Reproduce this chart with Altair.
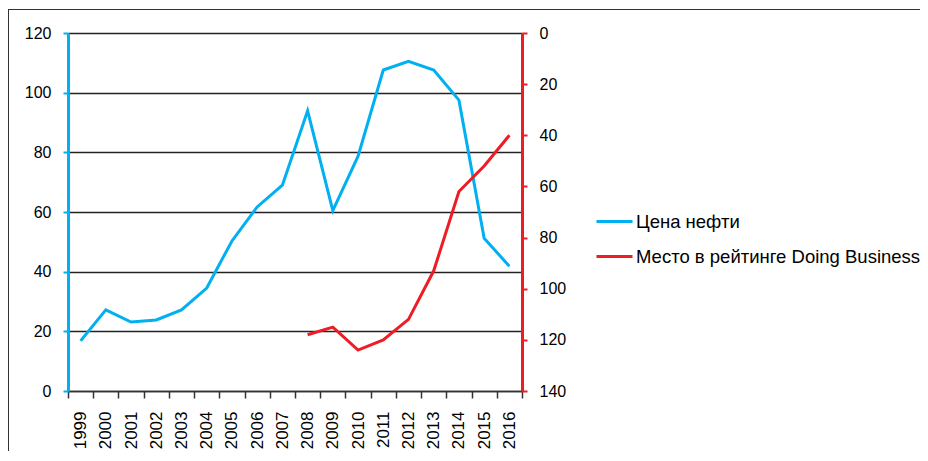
import altair as alt
import pandas as pd

years = [str(y) for y in range(1999, 2017)]
oil_price = [16.8, 27.2, 23.1, 23.8, 27.2, 34.5, 50.3, 61.7, 69.0, 93.9, 60.5, 78.7,
             107.6, 110.5, 107.6, 97.5, 51.2, 41.8]
rank_years = [str(y) for y in range(2008, 2017)]
rank_place = [118, 115, 124, 120, 112, 93, 62, 52, 40]
series_names = ["Цена нефти", "Место в рейтинге Doing Business"]
series_colors = ["#00B0F0", "#EE1C25"]
left_ticks = [0, 20, 40, 60, 80, 100, 120]
right_ticks = [0, 20, 40, 60, 80, 100, 120, 140]

FONT = "Liberation Sans"

df_oil = pd.DataFrame({"year": years, "value": oil_price, "series": series_names[0]})
df_rank = pd.DataFrame({"year": rank_years, "value": rank_place, "series": series_names[1]})

x_enc = alt.X(
    "year:N",
    sort=years,
    bandPosition=0.5,
    scale=alt.Scale(type="band", domain=years, paddingInner=0, paddingOuter=0),
    axis=alt.Axis(
        title=None, labelAngle=-90, tickBand="extent", grid=False,
        domainColor="#333333", domainWidth=1.5, tickColor="#333333", tickWidth=1.5,
        tickSize=7, labelPadding=13, labelFontSize=17, labelFont=FONT,
        labelColor="black", labelBaseline="middle",
    ),
)

color_enc = alt.Color(
    "series:N",
    scale=alt.Scale(domain=series_names, range=series_colors),
    legend=alt.Legend(
        title=None, orient="none", legendX=527, legendY=169,
        symbolType="stroke", symbolSize=1296, symbolStrokeWidth=3,
        labelFontSize=18.5, labelFont=FONT, labelColor="black", labelLimit=500,
        labelOffset=2, rowPadding=6,
    ),
)

oil_line = alt.Chart(df_oil).mark_line(strokeWidth=3).encode(
    x=x_enc,
    y=alt.Y(
        "value:Q",
        scale=alt.Scale(domain=[0, 120], nice=False, zero=True),
        axis=alt.Axis(
            title=None, orient="left", values=left_ticks, grid=True,
            gridColor="#222222", gridWidth=1.5,
            domainColor=series_colors[0], domainWidth=3,
            tickColor=series_colors[0], tickWidth=2, tickSize=5,
            labelPadding=12, labelFontSize=16, labelFont=FONT, labelColor="black",
        ),
    ),
    color=color_enc,
)

rank_line = alt.Chart(df_rank).mark_line(strokeWidth=3).encode(
    x=x_enc,
    y=alt.Y(
        "value:Q",
        scale=alt.Scale(domain=[0, 140], nice=False, reverse=True),
        axis=alt.Axis(
            title=None, orient="right", values=right_ticks, grid=False,
            domainColor=series_colors[1], domainWidth=3,
            tickColor=series_colors[1], tickWidth=2, tickSize=5,
            labelPadding=12, labelFontSize=16, labelFont=FONT, labelColor="black",
        ),
    ),
    color=color_enc,
)

frame_df = pd.DataFrame({"k": [0]})
frame_top = alt.Chart(frame_df).mark_rule(color="#333333", strokeWidth=1).encode(
    x=alt.value(-60), x2=alt.value(900), y=alt.value(-23.5)
)
frame_left = alt.Chart(frame_df).mark_rule(color="#333333", strokeWidth=1).encode(
    x=alt.value(-59.5), y=alt.value(-24), y2=alt.value(500)
)

chart = (
    alt.layer(frame_top, frame_left, oil_line, rank_line)
    .resolve_scale(y="independent")
    .resolve_axis(y="independent")
    .properties(
        width=454, height=358,
        autosize=alt.AutoSizeParams(type="none"),
        padding={"left": 60, "top": 25, "right": 398, "bottom": 60},
    )
    .configure(font=FONT)
    .configure_view(stroke=None)
)

chart.save("out.html", embed_options={"renderer": "svg", "actions": False})
